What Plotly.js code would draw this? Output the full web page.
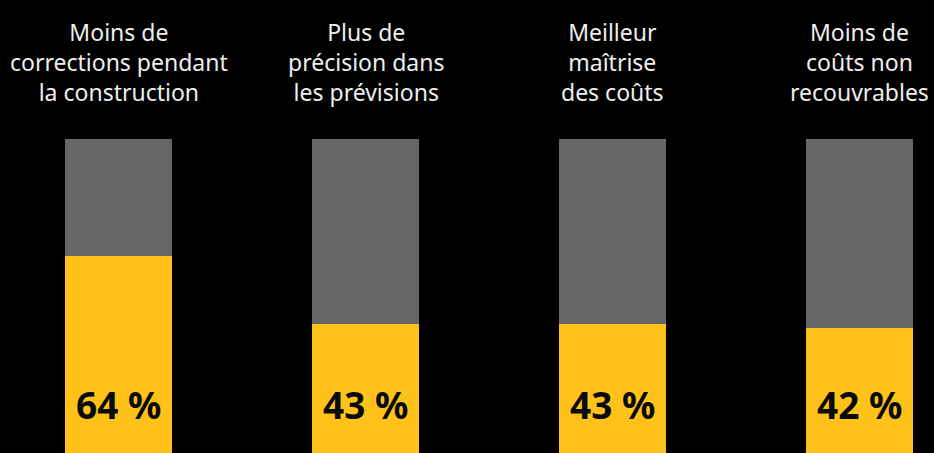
<!DOCTYPE html>
<html>
<head>
<meta charset="utf-8">
<script src="https://cdn.plot.ly/plotly-3.0.1.min.js"></script>
<style>html,body{margin:0;padding:0;background:#000;}#chart{width:934px;height:453px;}</style>
</head>
<body>
<div id="chart"></div>
<script>
const categories = ["Moins de<br>corrections pendant<br>la construction", "Plus de<br>précision dans<br>les prévisions", "Meilleur<br>maîtrise<br>des coûts", "Moins de<br>coûts non<br>recouvrables"];
const values = [64, 43, 43, 42];
const remainder = values.map(v => 100 - v);
const valueLabels = values.map(v => v + " %");

const xs = categories.map((c, i) => i);

const yellow = {
  type: 'bar', x: xs, y: values, marker: {color: '#FFC21A'},
  width: 0.433, hoverinfo: 'none'
};
const gray = {
  type: 'bar', x: xs, y: remainder, marker: {color: '#666666'},
  width: 0.433, hoverinfo: 'none'
};

const annotations = [];
categories.forEach((c, i) => {
  annotations.push({
    x: i, xref: 'x', y: 1 - 62/453, yref: 'paper', yanchor: 'middle', xanchor: 'center',
    text: c, showarrow: false, align: 'center',
    font: {family: 'Noto Sans', size: 23, color: '#eeeeee'}
  });
  annotations.push({
    x: i, xref: 'x', y: 18.2, yref: 'y', yanchor: 'middle', xanchor: 'center',
    text: '<b>' + valueLabels[i] + '</b>', showarrow: false,
    font: {family: 'Noto Sans', size: 37, color: '#0a0a0a'}
  });
});

const layout = {
  width: 934, height: 453,
  paper_bgcolor: '#000', plot_bgcolor: '#000',
  margin: {l: 0, r: 0, t: 0, b: 0},
  barmode: 'stack', showlegend: false,
  xaxis: {range: [-118.5/247, (934-118.5)/247], visible: false, fixedrange: true},
  yaxis: {range: [100 - 314/325*100, 100 + 139/325*100], visible: false, fixedrange: true},
  annotations: annotations
};

Plotly.newPlot('chart', [yellow, gray], layout, {displayModeBar: false, staticPlot: true});
</script>
</body>
</html>
